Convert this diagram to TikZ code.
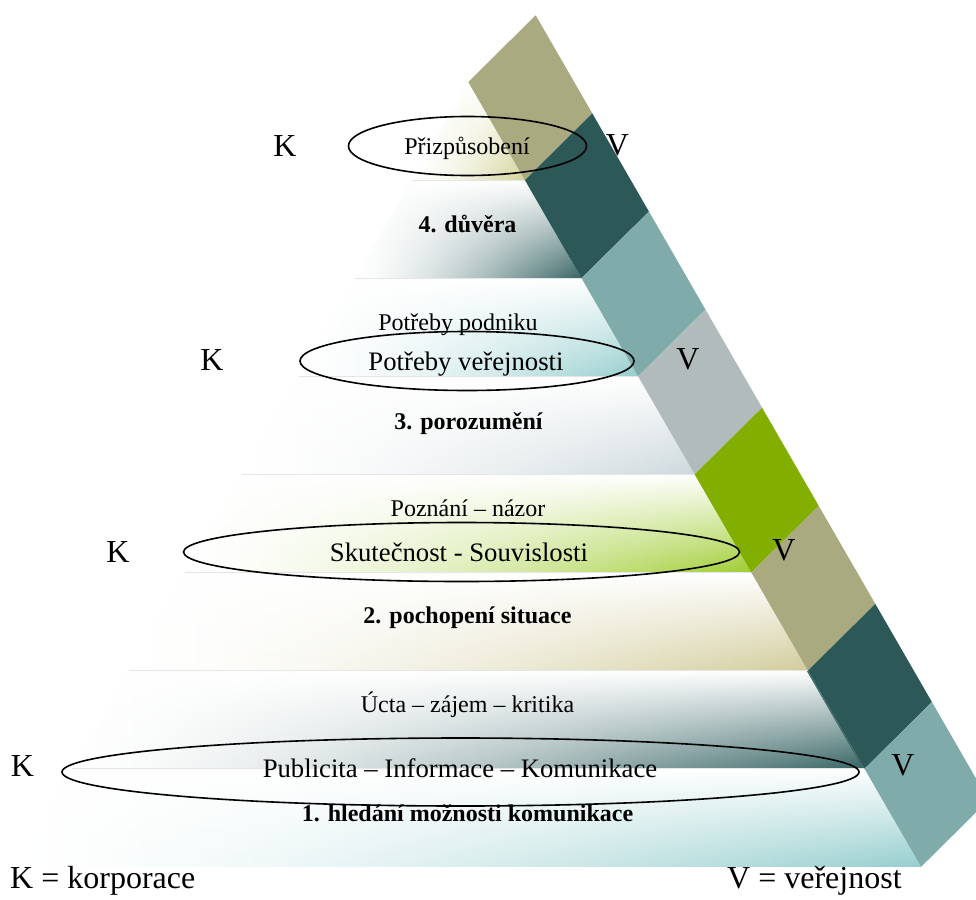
\documentclass[tikz,border=0pt]{standalone}
\usepackage{fontspec}
\setmainfont{Liberation Serif}
\usetikzlibrary{shapes.geometric,fadings}

% strip colours
\definecolor{stripolive}{RGB}{169,170,127}
\definecolor{stripdark}{RGB}{44,88,88}
\definecolor{stripteal}{RGB}{127,172,170}
\definecolor{stripgray}{RGB}{178,187,188}
\definecolor{stripgreen}{RGB}{130,174,0}
% band tints
\definecolor{bandolive}{RGB}{210,210,150}
\definecolor{banddark}{RGB}{55,100,100}
\definecolor{bandteal}{RGB}{150,206,206}
\definecolor{bandgray}{RGB}{205,216,220}
\definecolor{bandgreen}{RGB}{160,205,50}
\definecolor{bandkhaki}{RGB}{210,204,155}

% white on the left, deepening smoothly towards the tint on the right
\colorlet{tintcol}{white}
\pgfdeclarehorizontalshading[tintcol]{bandshade}{100bp}{%
  color(0bp)=(white); color(25bp)=(white);
  color(30bp)=(tintcol!3!white); color(35bp)=(tintcol!9!white);
  color(40bp)=(tintcol!16!white); color(45bp)=(tintcol!25!white);
  color(50bp)=(tintcol!35!white); color(55bp)=(tintcol!46!white);
  color(60bp)=(tintcol!59!white); color(65bp)=(tintcol!72!white);
  color(70bp)=(tintcol!85!white); color(75bp)=(tintcol); color(100bp)=(tintcol)}

\tikzfading[name=bandfade, top color=transparent!0, middle color=transparent!50, bottom color=transparent!100]

% one horizontal slice of the pyramid, between levels #1 and #2, tinted #3
\newcommand\pyrslice[3]{%
  \colorlet{tintcol}{#3}%
  \shade[shading=bandshade] (P#1) -- (L#1) -- (L#2) -- (P#2) -- cycle;
  \fill[white, path fading=bandfade] (P#1) -- (L#1) -- (L#2) -- (P#2) -- cycle;
}
% one piece of the diagonal strip
\newcommand\strippiece[3]{%
  \fill[#3] (L#1) -- (L#2) -- (R#2) -- (R#1) -- cycle;
}

\begin{document}
\begin{tikzpicture}[x=1pt,y=-1pt,
  small/.style={inner sep=0pt, anchor=base, font=\fontsize{24}{28}\selectfont},
  level/.style={inner sep=0pt, anchor=base, font=\fontsize{24}{28}\selectfont\bfseries},
  ringtext/.style={inner sep=0pt, anchor=base, font=\fontsize{26.7}{30}\selectfont},
  side/.style={inner sep=0pt, anchor=base, font=\fontsize{32}{36}\selectfont},
  legend/.style={inner sep=0pt, anchor=base west, font=\fontsize{32}{36}\selectfont},
  ring/.style={ellipse, draw=black, line width=1.6pt, inner sep=0pt},
  bandline/.style={draw=black!10, line width=0.8pt},
]
\useasboundingbox (0,0) rectangle (976,899);
\clip (0,0) rectangle (976,899);

% level corners: L = right edge of pyramid, P = left edge, R = outer edge of strip
\foreach \k in {0,...,8}{
  \coordinate (L\k) at ({468.3+56.6*\k},{82+98.1*\k});
  \coordinate (P\k) at ({468.3-56.6*\k},{82+98.1*\k});
  \coordinate (R\k) at ({535.7+56.6*\k},{15.3+98.1*\k});
}

% pyramid slices
\pyrslice{0}{1}{bandolive}
\pyrslice{1}{2}{banddark}
\pyrslice{2}{3}{bandteal}
\pyrslice{3}{4}{bandgray}
\pyrslice{4}{5}{bandgreen}
\pyrslice{5}{6}{bandkhaki}
\pyrslice{6}{7}{banddark}
\pyrslice{7}{8}{bandteal}

\foreach \k in {1,...,7}{
  \draw[bandline] (P\k) -- (L\k);
}

% diagonal strip
\strippiece{0}{1}{stripolive}
\strippiece{1}{2}{stripdark}
\strippiece{2}{3}{stripteal}
\strippiece{3}{4}{stripgray}
\strippiece{4}{5}{stripgreen}
\strippiece{5}{6}{stripolive}
\strippiece{6}{7}{stripdark}
\strippiece{7}{8}{stripteal}

% level 4
\node[ring, minimum width=238, minimum height=59] (ring4) at (467.5,146) {};
\node[small] (adapt) at (467,154) {Přizpůsobení};
\node[level] (lev4) at (467.5,232) {4. důvěra};
\node[side] (k4) at (285,156) {K};
\node[side] (v4) at (617.5,155) {V};

% level 3
\node[small] (needsco) at (458,330) {Potřeby podniku};
\node[ring, minimum width=334, minimum height=59] (ring3) at (467,361) {};
\node[ringtext] (needspub) at (466,370) {Potřeby veřejnosti};
\node[level] (lev3) at (468.5,429) {3. porozumění};
\node[side] (k3) at (212,370) {K};
\node[side] (v3) at (688,369) {V};

% level 2
\node[small] (know) at (468,516) {Poznání – názor};
\node[ring, minimum width=556, minimum height=59] (ring2) at (461.5,552) {};
\node[ringtext] (facts) at (459,561) {Skutečnost - Souvislosti};
\node[level] (lev2) at (467.5,623) {2. pochopení situace};
\node[side] (k2) at (118,562) {K};
\node[side] (v2) at (784,560) {V};

% level 1
\node[small] (respect) at (467.5,712) {Úcta – zájem – kritika};
\node[ring, minimum width=797, minimum height=68] (ring1) at (460.5,772) {};
\node[ringtext] (publ) at (460,777) {Publicita – Informace – Komunikace};
\node[level] (lev1) at (467.5,821) {1. hledání možnosti komunikace};
\node[side] (k1) at (22.5,776) {K};
\node[side] (v1) at (903,775) {V};

% legend
\node[legend] (legk) at (10,888) {K = korporace};
\node[legend] (legv) at (727,888) {V = veřejnost};
\end{tikzpicture}
\end{document}
